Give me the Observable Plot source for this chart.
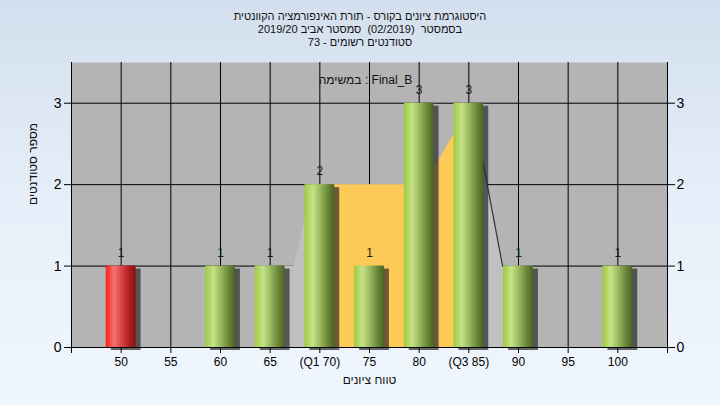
<!DOCTYPE html>
<html>
<head>
<meta charset="utf-8">
<script src="https://cdn.jsdelivr.net/npm/d3@7"></script>
<script src="https://cdn.jsdelivr.net/npm/@observablehq/plot@0.6"></script>
<style>
  html, body { margin: 0; padding: 0; }
  body {
    width: 720px; height: 405px; overflow: hidden;
    background: linear-gradient(to bottom, #d3dfee 0%, #e6eff9 50%, #f0f6fd 100%);
    font-family: "Liberation Sans", "DejaVu Sans", sans-serif;
  }
  #title { height: 49px; box-sizing: border-box; padding-top: 10px; color: #111; font-size: 11px; line-height: 13px; text-align: center; }
  #title div { direction: rtl; }
  #chart svg { display: block; }
</style>
</head>
<body>
<div id="title">
  <div>היסטוגרמת ציונים בקורס - תורת האינפורמציה הקוונטית</div>
  <div>בסמסטר&nbsp; (02/2019)&nbsp; סמסטר אביב 2019/20</div>
  <div>סטודנטים רשומים - 73</div>
</div>
<div id="chart"></div>
<script>
// ---- data ----
const grades = [50, 55, 60, 65, 70, 75, 80, 85, 90, 95, 100];
const counts = [1, 0, 1, 1, 2, 1, 3, 3, 1, 0, 1];
const passGrade = 55;
const tickGrades = [45, 50, 55, 60, 65, 70, 75, 80, 85, 90, 95, 100, 105];
const tickLabels = ["", "50", "55", "60", "65", "(Q1 70)", "75", "80", "(Q3 85)", "90", "95", "100", ""];
const yTicks = [0, 1, 2, 3];
// distribution overlay (light grey area)
const overlayX = [63.5, 67.4, 69.4, 80.6, 85.3, 88.4, 91.5];
const overlayY = [1, 1, 2, 2, 3, 1, 1];
// inter-quartile part of the overlay (yellow)
const iqrX = [70, 80.6, 85.3];
const iqrY = [2, 2, 3];
// outline segment visible on the right side
const edgeX = [85.3, 88.4];
const edgeY = [3, 1];
const taskLabel = "\u2066במשימה : Final_B\u2069";
const xTitle = "טווח ציונים";
const yTitle = "מספר סטודנטים";

const bars = grades.map((g, i) => ({g, c: counts[i]})).filter(d => d.c > 0);
const overlay = overlayX.map((x, i) => ({x, y: overlayY[i]}));
const iqr = iqrX.map((x, i) => ({x, y: iqrY[i]}));
const edge = edgeX.map((x, i) => ({x, y: edgeY[i]}));
const labelMap = new Map(tickGrades.map((g, i) => [g, tickLabels[i]]));
const halfW = 1.5;

const plot = Plot.plot({
  width: 720,
  height: 356,
  marginTop: 13,
  marginBottom: 58,
  marginLeft: 71,
  marginRight: 53,
  style: {background: "transparent", fontFamily: "Liberation Sans, DejaVu Sans, sans-serif", color: "#000"},
  x: {type: "linear", domain: [45, 105]},
  y: {domain: [0, 3.5]},
  marks: [
    Plot.frame({fill: "#b4b4b4", stroke: "none"}),
    Plot.ruleX(grades, {stroke: "#000", strokeWidth: 1}),
    Plot.ruleY(yTicks.filter(d => d > 0), {stroke: "#000", strokeWidth: 1}),
    Plot.areaY(overlay, {x: "x", y: "y", fill: "#c0c0c0"}),
    Plot.areaY(iqr, {x: "x", y: "y", fill: "#fdca58"}),
    Plot.line(edge, {x: "x", y: "y", stroke: "#333", strokeWidth: 1.2}),
    Plot.rectY(bars, {x1: d => d.g - halfW, x2: d => d.g + halfW, y: "c", fill: "#2a2a2a", fillOpacity: 0.7, dx: 5, dy: 3, ariaLabel: "shadow"}),
    Plot.rectY(bars, {x1: d => d.g - halfW, x2: d => d.g + halfW, y: "c", fill: d => d.g < passGrade ? "url(#gradRed)" : "url(#gradGreen)", ariaLabel: "bars"}),
    Plot.text(bars, {x: "g", y: "c", text: d => String(d.c), dy: -13, fontSize: 12, fill: "#1a1a1a"}),
    Plot.ruleX([45, 105], {stroke: "#000", strokeWidth: 1}),
    Plot.ruleY([0], {stroke: "#000", strokeWidth: 1}),
    Plot.axisX(tickGrades, {tickFormat: d => labelMap.get(d), tickSize: 6, tickPadding: 4, fontSize: 12, label: null, stroke: "#000"}),
    Plot.axisY(yTicks, {anchor: "left", tickSize: 7, tickPadding: 3, fontSize: 14, label: null, tickFormat: d => String(d)}),
    Plot.axisY(yTicks, {anchor: "right", tickSize: 7, tickPadding: 2, fontSize: 14, label: null, tickFormat: d => String(d)}),
    Plot.text([taskLabel], {frameAnchor: "top", dy: 13, dx: -4, fontSize: 12, fill: "#111"}),
    Plot.text([xTitle], {frameAnchor: "bottom", dy: 36, fontSize: 12, fill: "#111"}),
    Plot.text([yTitle], {frameAnchor: "left", dx: -38, rotate: -90, fontSize: 12, fill: "#111"})
  ]
});

// gradients and shadow blur
const svg = d3.select(plot);
const defs = svg.insert("defs", ":first-child");
const g1 = defs.append("linearGradient").attr("id", "gradGreen").attr("x1", 0).attr("x2", 1).attr("y1", 0).attr("y2", 0);
[[0, "#9ccb42"], [0.28, "#c6e289"], [0.5, "#9fbd63"], [0.78, "#6a8838"], [1, "#4a6321"]].forEach(([o, c]) => g1.append("stop").attr("offset", o).attr("stop-color", c));
const g2 = defs.append("linearGradient").attr("id", "gradRed").attr("x1", 0).attr("x2", 1).attr("y1", 0).attr("y2", 0);
[[0, "#ff1c1c"], [0.28, "#f27272"], [0.5, "#dc4a4a"], [0.78, "#b02020"], [1, "#861010"]].forEach(([o, c]) => g2.append("stop").attr("offset", o).attr("stop-color", c));
const f = defs.append("filter").attr("id", "blur").attr("x", "-50%").attr("y", "-20%").attr("width", "200%").attr("height", "140%");
f.append("feGaussianBlur").attr("stdDeviation", 2);
svg.selectAll('g[aria-label="shadow"]').attr("filter", "url(#blur)");

document.getElementById("chart").appendChild(plot);
</script>
</body>
</html>
